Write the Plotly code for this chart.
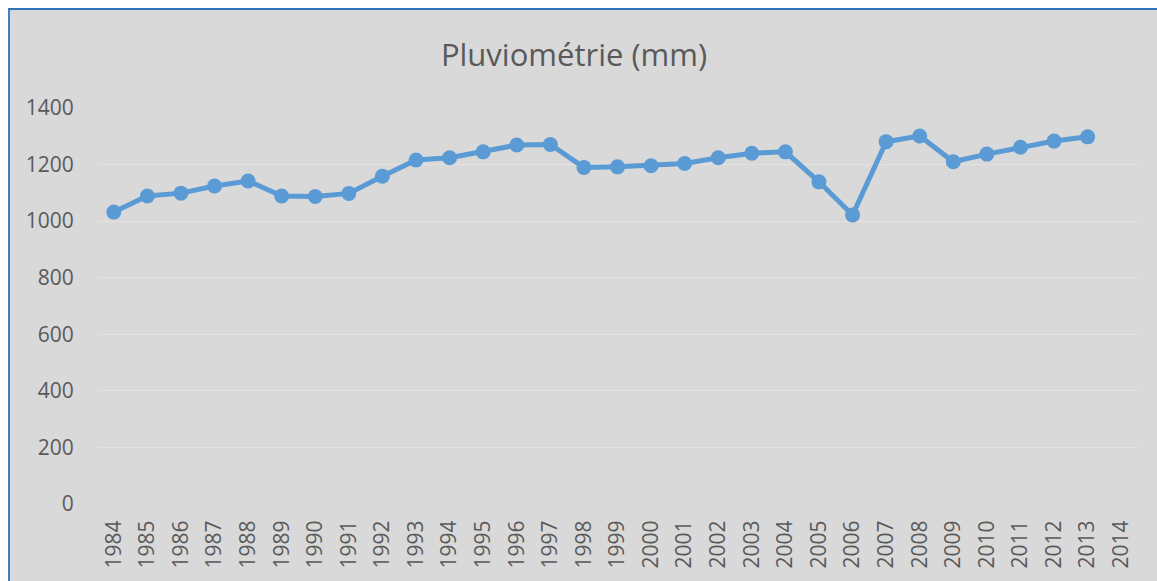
import plotly.graph_objects as go

# pluviometrie annuelle (mm)
years = [str(y) for y in range(1984, 2015)]
data_years = [str(y) for y in range(1984, 2014)]
rain_mm = [1032, 1089, 1099, 1124, 1142, 1089, 1087, 1098, 1159, 1216,
           1224, 1245, 1269, 1271, 1190, 1192, 1196, 1204, 1224, 1240,
           1245, 1139, 1022, 1281, 1301, 1210, 1237, 1261, 1283, 1298]
y_ticks = [0, 200, 400, 600, 800, 1000, 1200, 1400]

W, H = 1157, 581
ml, mr, mt, mb = 97, 19, 108, 77
pw = W - ml - mr
ph = H - mt - mb

fig = go.Figure()
fig.add_trace(go.Scatter(
    x=data_years, y=rain_mm, mode="lines+markers",
    line=dict(color="#5b9bd5", width=5),
    marker=dict(color="#5b9bd5", size=15),
    showlegend=False, hoverinfo="x+y",
))

# fond gris + bordure bleue (seuls les cotes gauche et haut sont visibles)
fig.add_shape(type="rect", xref="paper", yref="paper",
              x0=(9 - ml) / pw, x1=(W + 30 - ml) / pw,
              y0=-(mb + 30) / ph, y1=(H - mb - 9) / ph,
              fillcolor="#d9d9d9", line=dict(color="#2e75b6", width=1.8),
              layer="below")

fig.update_layout(
    width=W, height=H,
    margin=dict(l=ml, r=mr, t=mt, b=mb),
    paper_bgcolor="white",
    plot_bgcolor="rgba(0,0,0,0)",
    font=dict(family="Open Sans", color="#595959", size=21),
    title=dict(text="Pluviométrie (mm)", x=574 / W, xanchor="center",
               y=1 - 55 / H, yanchor="middle",
               font=dict(size=31, color="#595959")),
    xaxis=dict(type="category", categoryorder="array", categoryarray=years,
               tickvals=years, ticktext=years,
               range=[-0.5, len(years) - 0.5], tickangle=-90,
               showgrid=False, zeroline=False, showline=False,
               ticks="outside", ticklen=7, tickcolor="rgba(0,0,0,0)",
               tickfont=dict(size=21, color="#595959")),
    yaxis=dict(range=[0, 1400], tickvals=y_ticks,
               showgrid=True, gridcolor="#e2e2e2", gridwidth=1,
               zeroline=False, showline=False,
               ticks="outside", ticklen=18, tickcolor="rgba(0,0,0,0)",
               tickfont=dict(size=21, color="#595959")),
)

# figure collee au coin de la fenetre, sans barres de defilement
fig.write_html(
    "out.html",
    config={"displayModeBar": False},
    post_script="document.body.style.margin='0';"
                "document.documentElement.style.overflow='hidden';",
)
